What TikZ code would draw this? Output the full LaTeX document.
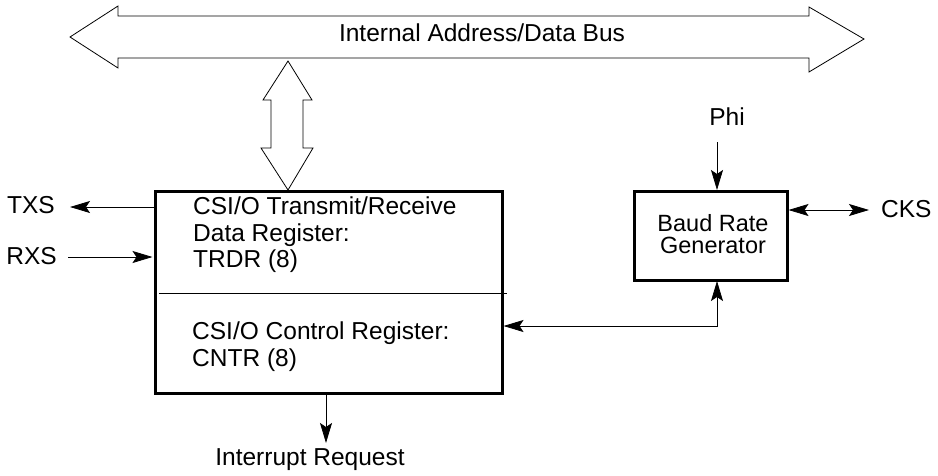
\documentclass[tikz,border=0pt]{standalone}
\usepackage{fontspec}
\setmainfont{Liberation Sans}
\usetikzlibrary{arrows.meta}
\begin{document}
\begin{tikzpicture}[x=1pt,y=-1pt,
  lbl/.style={inner sep=0pt,font=\fontsize{24.5}{26.3}\selectfont},
  thin/.style={line width=0.8pt},
  thick box/.style={draw,line width=3pt},
  tip/.tip={Stealth[length=20pt,width=12pt,inset=4pt]},
  sig/.style={thin,-tip},
  sigb/.style={thin,tip-tip}]
\useasboundingbox (0,0) rectangle (938,475);
% bus double arrow
\draw[thin,line join=miter] (70,37) -- (118,6) -- (118,16) -- (809,16) -- (809,7) -- (864,39)
  -- (809,72) -- (809,58) -- (118,58) -- (118,68) -- cycle;
\node[lbl] (bus) at (482,33) {Internal Address/Data Bus};
% vertical double arrow
\draw[thin,line join=miter] (288,61) -- (312,100) -- (303,100) -- (303,148) -- (313,148) -- (288,190)
  -- (261,148) -- (271,148) -- (271,100) -- (263,100) -- cycle;
% main box
\node[thick box,minimum width=347pt,minimum height=202pt,inner sep=0pt] (main) at (328.5,292) {};
\coordinate (divL) at (159,293);
\coordinate (divR) at (507,293);
\draw[thin] (divL) -- (divR);
\node[lbl,anchor=north west,align=left] (trdr) at (193,197) {CSI/O Transmit/Receive\\Data Register:\\TRDR (8)};
\node[lbl,anchor=north west,align=left] (cntr) at (192,322) {CSI/O Control Register:\\CNTR (8)};
% baud box
\node[thick box,minimum width=153pt,minimum height=89pt,inner sep=0pt] (baud) at (710.5,236) {};
\node[lbl,align=center,font=\fontsize{23.5}{22}\selectfont] (baudt) at (713,234) {Baud Rate\\Generator};
% labels
\node[lbl,anchor=east] (txs) at (55,205) {TXS};
\node[lbl,anchor=east] (rxs) at (57,256) {RXS};
\node[lbl,anchor=west] (cks) at (881,209) {CKS};
\node[lbl] (phi) at (727,117) {Phi};
\node[lbl] (irq) at (310,460) {Interrupt Request};
% coordinates
\coordinate (txsE) at (70,207);
\coordinate (txsB) at (main.west |- txsE);
\coordinate (rxsE) at (68,257);
\coordinate (rxsB) at (main.west |- rxsE);
\coordinate (phiE) at (717,142);
\coordinate (baudT) at (baud.north -| phiE);
\coordinate (cksE) at (869,210);
\coordinate (cksB) at (baud.east |- cksE);
\coordinate (irqT) at (326,393);
\coordinate (irqE) at (326,443);
\coordinate (ctrlB) at (main.east |- 0,326);
\coordinate (baudB) at (717,281);
% connectors
\draw[sig] (txsB) -- (txsE);
\draw[sig] (rxsE) -- ([xshift=-1pt]rxsB);
\draw[sig] (phiE) -- (baudT);
\draw[sigb] (cksB) -- (cksE);
\draw[sig] (irqT) -- (irqE);
\draw[sigb] (ctrlB) -| (baudB);
\end{tikzpicture}
\end{document}
